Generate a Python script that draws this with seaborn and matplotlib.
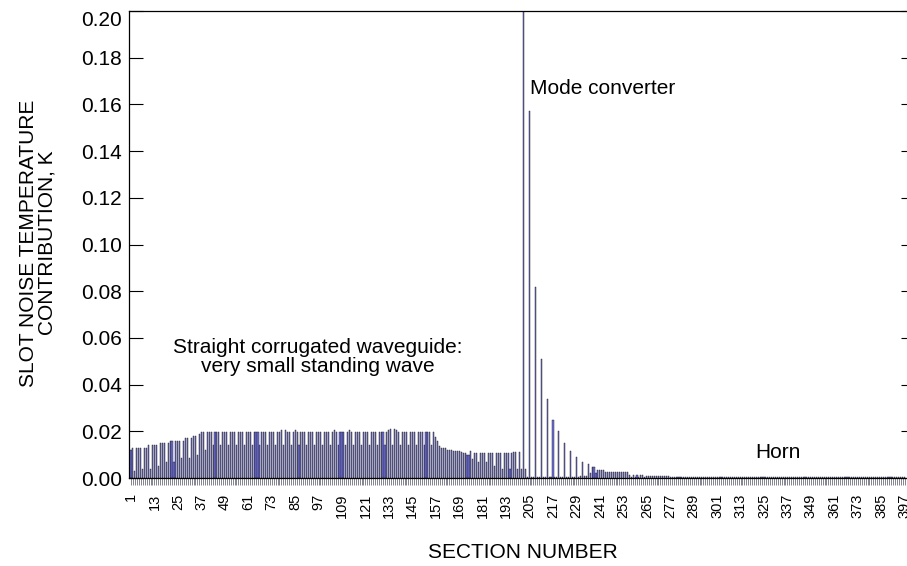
import numpy as np
import matplotlib
matplotlib.use("Agg")
import matplotlib.pyplot as plt
import seaborn as sns

# ---- data ----
sections = np.arange(1, 398)

noise_temp = [
    # 1-12
    0.012, 0.013, 0.003, 0.013, 0.013, 0.013, 0.004, 0.013, 0.013, 0.014, 0.004, 0.014,
    # 13-24
    0.014, 0.014, 0.005, 0.015, 0.015, 0.015, 0.007, 0.015, 0.016, 0.016, 0.007, 0.016,
    # 25-36
    0.016, 0.016, 0.0085, 0.016, 0.017, 0.017, 0.0085, 0.017, 0.018, 0.018, 0.010, 0.019,
    # 37-48
    0.0195, 0.0195, 0.012, 0.0195, 0.0195, 0.0195, 0.014, 0.0195, 0.0195, 0.0195, 0.014, 0.0195,
    # 49-60
    0.0195, 0.0195, 0.014, 0.0195, 0.0195, 0.0195, 0.014, 0.0195, 0.0195, 0.0195, 0.014, 0.0195,
    # 61-72
    0.0195, 0.0195, 0.014, 0.0195, 0.0195, 0.0195, 0.014, 0.0195, 0.0195, 0.0195, 0.014, 0.0195,
    # 73-84
    0.0195, 0.0195, 0.014, 0.0195, 0.0195, 0.0205, 0.014, 0.0205, 0.0195, 0.0195, 0.014, 0.0195,
    # 85-96
    0.0205, 0.0195, 0.014, 0.0195, 0.0195, 0.0195, 0.014, 0.0195, 0.0195, 0.0195, 0.014, 0.0195,
    # 97-108
    0.0195, 0.0195, 0.014, 0.0195, 0.0195, 0.0195, 0.014, 0.0195, 0.0205, 0.0195, 0.014, 0.0195,
    # 109-120
    0.0195, 0.0195, 0.014, 0.0195, 0.0205, 0.0195, 0.014, 0.0195, 0.0195, 0.0195, 0.014, 0.0195,
    # 121-132
    0.0195, 0.0195, 0.014, 0.0195, 0.0195, 0.0195, 0.014, 0.0195, 0.0195, 0.0195, 0.014, 0.0195,
    # 133-144
    0.0205, 0.021, 0.014, 0.021, 0.0205, 0.0195, 0.014, 0.0195, 0.0195, 0.0195, 0.014, 0.0195,
    # 145-156
    0.0195, 0.0195, 0.014, 0.0195, 0.0195, 0.0195, 0.014, 0.0195, 0.0195, 0.0195, 0.014, 0.0195,
    # 157-168
    0.0175, 0.016, 0.0135, 0.013, 0.013, 0.013, 0.012, 0.012, 0.012, 0.0115, 0.0115, 0.0115,
    # 169-180
    0.0115, 0.011, 0.0105, 0.0105, 0.010, 0.010, 0.0115, 0.008, 0.0105, 0.0105, 0.007, 0.0105,
    # 181-192
    0.0105, 0.0105, 0.007, 0.0105, 0.0105, 0.0105, 0.005, 0.0105, 0.0105, 0.0105, 0.004, 0.0105,
    # 193-204
    0.0105, 0.0105, 0.004, 0.0105, 0.011, 0.011, 0.004, 0.011, 0.004, 0.300, 0.004, 0.0005,
    # 205-216
    0.157, 0.0005, 0.0005, 0.082, 0.0005, 0.0005, 0.051, 0.0005, 0.0005, 0.034, 0.0005, 0.0005,
    # 217-228
    0.025, 0.0005, 0.0005, 0.020, 0.0005, 0.0005, 0.015, 0.0005, 0.0005, 0.0115, 0.0005, 0.0005,
    # 229-240
    0.009, 0.0005, 0.001, 0.007, 0.001, 0.001, 0.006, 0.002, 0.0047, 0.0047, 0.002, 0.0036,
    # 241-252
    0.0036, 0.0036, 0.0036, 0.0026, 0.0026, 0.0026, 0.0026, 0.0026, 0.0026, 0.0026, 0.0026, 0.0026,
    # 253-264
    0.0026, 0.0026, 0.0026, 0.0014, 0.0005, 0.0014, 0.0005, 0.0014, 0.0005, 0.0014, 0.0014, 0.0005,
    # 265-276
    0.0008, 0.0008, 0.0008, 0.0008, 0.0008, 0.0008, 0.0008, 0.0008, 0.0008, 0.0008, 0.0008, 0.0008,
    # 277-288
    0.0006, 0.0006, 0.0006, 0.0006, 0.0005, 0.0005, 0.0005, 0.0005, 0.0005, 0.0005, 0.0005, 0.0005,
    # 289-300
    0.0005, 0.0005, 0.0005, 0.0005, 0.0005, 0.0005, 0.0005, 0.0005, 0.0005, 0.0005, 0.0005, 0.0005,
    # 301-312
    0.0004, 0.0004, 0.0004, 0.0004, 0.0004, 0.0004, 0.0004, 0.0004, 0.0004, 0.0004, 0.0004, 0.0004,
    # 313-324
    0.0004, 0.0004, 0.0004, 0.0004, 0.0004, 0.0004, 0.0004, 0.0004, 0.0004, 0.0004, 0.0004, 0.0004,
    # 325-336
    0.0004, 0.0004, 0.0004, 0.0004, 0.0004, 0.0004, 0.0004, 0.0004, 0.0004, 0.0004, 0.0004, 0.0004,
    # 337-348
    0.0004, 0.0004, 0.0004, 0.0004, 0.0004, 0.0004, 0.0004, 0.0004, 0.0004, 0.0004, 0.0004, 0.0004,
    # 349-360
    0.0004, 0.0004, 0.0004, 0.0004, 0.0004, 0.0004, 0.0004, 0.0004, 0.0004, 0.0004, 0.0004, 0.0004,
    # 361-372
    0.0004, 0.0004, 0.0004, 0.0004, 0.0004, 0.0004, 0.0004, 0.0004, 0.0004, 0.0004, 0.0004, 0.0004,
    # 373-384
    0.0004, 0.0004, 0.0004, 0.0004, 0.0004, 0.0004, 0.0004, 0.0004, 0.0004, 0.0004, 0.0004, 0.0004,
    # 385-396
    0.0004, 0.0004, 0.0004, 0.0004, 0.0004, 0.0004, 0.0004, 0.0004, 0.0004, 0.0004, 0.0004, 0.0004,
    # 397
    0.0004,
]

label_sections = list(range(1, 398, 12))
y_ticks = [0.00, 0.02, 0.04, 0.06, 0.08, 0.10, 0.12, 0.14, 0.16, 0.18, 0.20]

# ---- style ----
sns.set_style("white")
plt.rcParams["font.family"] = ["Liberation Sans", "DejaVu Sans"]
plt.rcParams["text.color"] = "black"
plt.rcParams["axes.labelcolor"] = "black"
plt.rcParams["xtick.color"] = "black"
plt.rcParams["ytick.color"] = "black"

W, H = 907, 566
fig = plt.figure(figsize=(W / 100, H / 100), dpi=100)
ax_left, ax_right, ax_top, ax_bottom = 129, 915, 11, 478
ax = fig.add_axes([ax_left / W, 1 - ax_bottom / H,
                   (ax_right - ax_left) / W, (ax_bottom - ax_top) / H])

sns.barplot(x=sections, y=noise_temp, color="#7272e2", saturation=1,
            width=0.55, edgecolor="#1a1a1a", linewidth=0.3, ax=ax)

XMIN, XMAX = -1.02, 401.3
ax.set_xlim(XMIN, XMAX)
ax.set_ylim(0, 0.20)

# y axis
ax.set_yticks(y_ticks)
ax.set_yticklabels([f"{v:.2f}" for v in y_ticks])
ax.tick_params(axis="y", which="major", direction="in", length=10, width=0.8,
               labelsize=15, pad=5, left=True, right=True, colors="black")
ax.yaxis.get_major_ticks()[-1].label1.set_verticalalignment("top")

# x axis
pos = [s - 1 for s in label_sections]
ax.set_xticks(pos)
ax.set_xticklabels([str(s) for s in label_sections], rotation=90)
ax.set_xticks(range(len(sections)), minor=True)
ax.tick_params(axis="x", which="both", direction="out", length=5, width=0.45,
               labelsize=10.5, pad=6, bottom=True, top=False, color="#404055",
               labelcolor="black")

for s in ax.spines.values():
    s.set_linewidth(0.9)
    s.set_color("black")
ax.set_xlabel("")
ax.set_ylabel("")

# annotations
def xd(px):
    return XMIN + (px - ax_left) / ((ax_right - ax_left) / (XMAX - XMIN))

def yd(py):
    return (ax_bottom - py) / (ax_bottom - ax_top) * 0.20

ax.text(xd(530), yd(88), "Mode converter", fontsize=15, ha="left", va="center")
ax.text(xd(318), yd(357), "Straight corrugated waveguide:\nvery small standing wave",
        fontsize=15, ha="center", va="center", multialignment="center", linespacing=1.0)
ax.text(xd(755), yd(452), "Horn", fontsize=15, ha="left", va="center")

fig.text(38 / W, 1 - 243 / H, "SLOT NOISE TEMPERATURE\nCONTRIBUTION, K", fontsize=15,
         rotation=90, ha="center", va="center", multialignment="center", linespacing=0.95)
fig.text(523 / W, 1 - 553 / H, "SECTION NUMBER", fontsize=15, ha="center", va="center")

fig.savefig("out.png", dpi=100)
